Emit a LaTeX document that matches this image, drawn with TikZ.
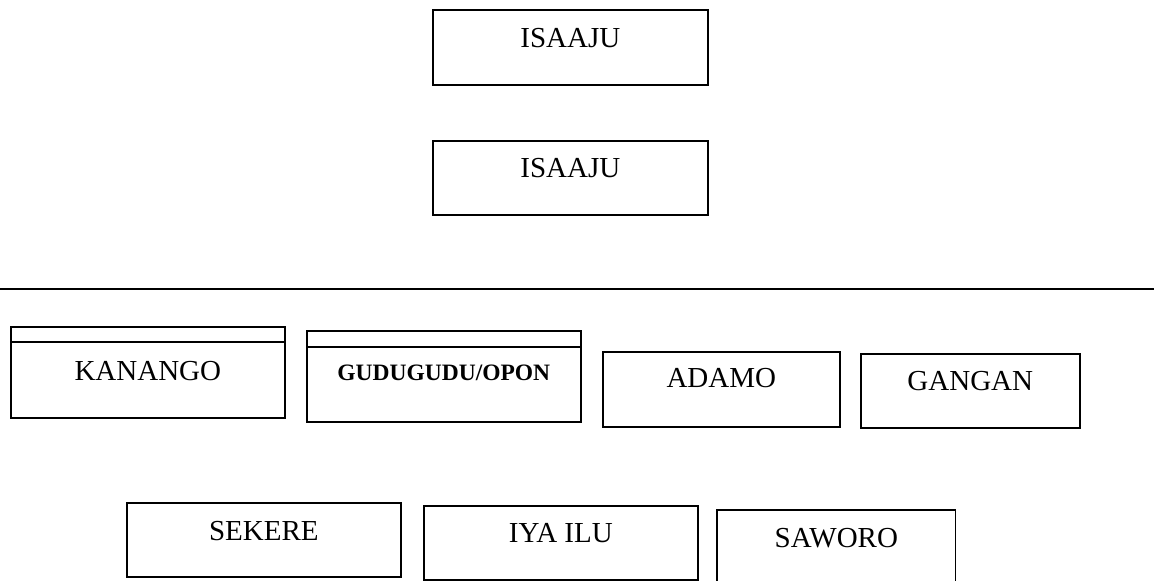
\documentclass[tikz,border=0pt]{standalone}
\usepackage{fontspec}
\setmainfont{Liberation Serif}
\usetikzlibrary{calc}
\begin{document}
\begin{tikzpicture}[x=1pt,y=-1pt,
  box/.style={draw, line width=1.6pt, anchor=north west, inner xsep=0pt, inner ysep=0pt,
    font=\fontsize{29}{34}\selectfont},
  openbox/.style={box, draw=none},
  rule/.style={line width=1.8pt},
  innerline/.style={line width=1.6pt}]
\useasboundingbox (0,0) rectangle (1154,581);
% top
\node[box, minimum width=275pt, text height=38pt, text depth=37pt] (isa1) at (432,9) {ISAAJU};
\node[box, minimum width=275pt, text height=37pt, text depth=37pt] (isa2) at (432,140) {ISAAJU};
% separator
\coordinate (ruleL) at (0,289);
\coordinate (ruleR) at (1154,289);
\draw[rule] (ruleL) -- (ruleR);
% middle row
\node[box, minimum width=274pt, text height=54pt, text depth=37pt] (kan) at (10,326) {KANANGO};
\draw[innerline] ($(kan.north west)+(0,16)$) -- ($(kan.north east)+(0,16)$);
\node[box, minimum width=274pt, text height=50pt, text depth=41pt,
  font=\fontsize{23.5}{28}\selectfont\bfseries] (gud) at (306,330) {GUDUGUDU/OPON};
\draw[innerline] ($(gud.north west)+(0,17)$) -- ($(gud.north east)+(0,17)$);
\node[box, minimum width=237pt, text height=36pt, text depth=39pt] (ada) at (602,351) {ADAMO};
\node[box, minimum width=219pt, text height=37pt, text depth=37pt] (gan) at (860,353) {GANGAN};
% bottom row
\node[box, minimum width=274pt, text height=38pt, text depth=36pt] (sek) at (126,502) {SEKERE};
\node[box, minimum width=274pt, text height=37pt, text depth=37pt] (iya) at (423,505) {IYA ILU};
\node[openbox, minimum width=237pt, text height=37pt, text depth=37pt] (saw) at (717,510) {SAWORO};
\draw[line width=1.6pt] (saw.south west) -- (saw.north west) -- (saw.north east) -- (saw.south east);
\end{tikzpicture}
\end{document}
